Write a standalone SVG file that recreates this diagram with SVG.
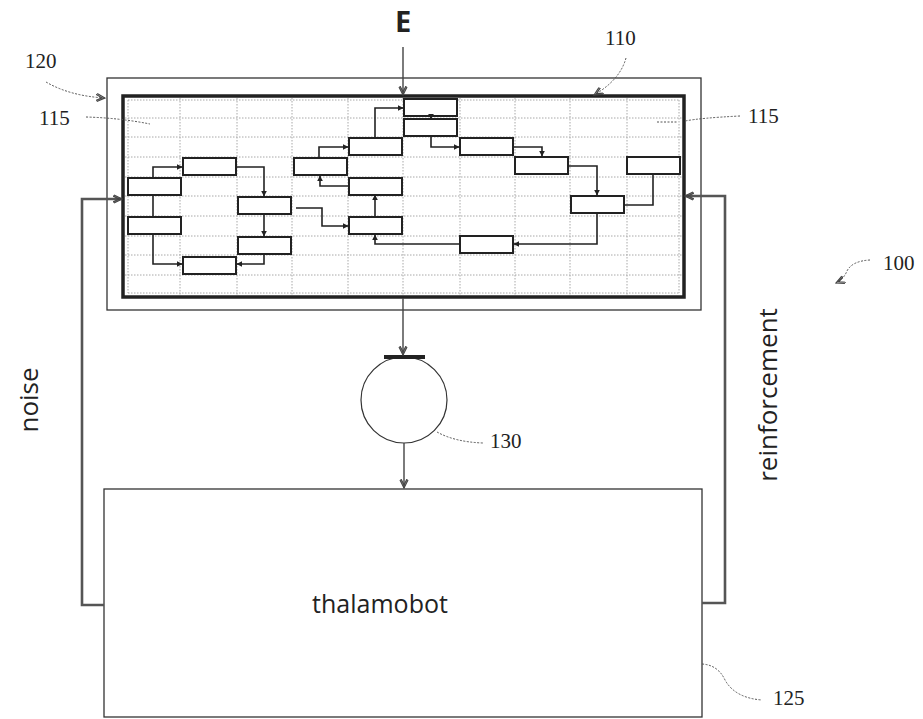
<svg xmlns="http://www.w3.org/2000/svg" width="923" height="719" viewBox="0 0 923 719">
<style>
.grid{stroke:#a8a8a8;stroke-width:1;stroke-dasharray:1.5 1.5;fill:none}
.cell{fill:#fff;stroke:#222;stroke-width:2}
.wire{fill:none;stroke:#222;stroke-width:1.6}
.feed{fill:none;stroke:#555;stroke-width:2.6}
.flow{fill:none;stroke:#444;stroke-width:1.4}
.lead{fill:none;stroke:#555;stroke-width:1;stroke-dasharray:2 1.5}
.num{font-family:"Liberation Serif",serif;font-size:21px;fill:#222}
.lbl{font-family:"Open Sans",sans-serif;fill:#222}
</style>
<defs>
<marker id="tri" viewBox="0 0 10 10" refX="9" refY="5" markerWidth="6" markerHeight="6" markerUnits="userSpaceOnUse" orient="auto">
<path d="M0,0 L10,5 L0,10 Z" fill="#222"/>
</marker>
<marker id="chev" viewBox="0 0 10 10" refX="9" refY="5" markerWidth="10" markerHeight="10" markerUnits="userSpaceOnUse" orient="auto">
<path d="M1,1 L9,5 L1,9 M-2,1 L6,5 L-2,9" fill="none" stroke="#444" stroke-width="1.2"/>
</marker>
</defs>
<rect width="923" height="719" fill="#fff"/>

<g id="n120">
<rect x="107" y="78" width="594" height="232" fill="none" stroke="#333" stroke-width="1.3"/>
</g>
<g id="n110">
<rect x="124" y="97" width="559" height="199" fill="#fff" stroke="none"/>
<g class="grid">
<path d="M180,98V295M237,98V295M292,98V295M348,98V295M403,98V295M460,98V295M515,98V295M570,98V295M627,98V295"/>
<path d="M125,118H682M125,137H682M125,157H682M125,177H682M125,196H682M125,216H682M125,236H682M125,255H682M125,275H682"/>
<path d="M128,100V293M679,100V293M128,100H679M128,293H679"/>
</g>
<rect x="123" y="96" width="561" height="201" fill="none" stroke="#222" stroke-width="3.5"/>
</g>

<g id="cells">
<g id="cA"><rect class="cell" x="128" y="178" width="53" height="17"/></g>
<g id="cB"><rect class="cell" x="128" y="217" width="53" height="17"/></g>
<g id="cC"><rect class="cell" x="183" y="158" width="53" height="17"/></g>
<g id="cD"><rect class="cell" x="183" y="257" width="53" height="17"/></g>
<g id="cE"><rect class="cell" x="238" y="197" width="53" height="17"/></g>
<g id="cF"><rect class="cell" x="238" y="237" width="53" height="17"/></g>
<g id="cG"><rect class="cell" x="294" y="158" width="53" height="17"/></g>
<g id="cH"><rect class="cell" x="349" y="138" width="53" height="17"/></g>
<g id="cI"><rect class="cell" x="349" y="178" width="53" height="17"/></g>
<g id="cJ"><rect class="cell" x="349" y="217" width="53" height="17"/></g>
<g id="cK"><rect class="cell" x="404" y="99" width="53" height="17"/></g>
<g id="cL"><rect class="cell" x="404" y="119" width="53" height="17"/></g>
<g id="cM"><rect class="cell" x="460" y="138" width="53" height="17"/></g>
<g id="cN"><rect class="cell" x="515" y="157" width="53" height="17"/></g>
<g id="cO"><rect class="cell" x="571" y="196" width="53" height="17"/></g>
<g id="cP"><rect class="cell" x="627" y="157" width="53" height="17"/></g>
<g id="cQ"><rect class="cell" x="460" y="236" width="53" height="17"/></g>
</g>

<g id="n130">
<circle cx="404" cy="400" r="43" fill="#fff" stroke="#333" stroke-width="1.2"/>
<rect x="384" y="355" width="41" height="4" fill="#222"/>
</g>

<g id="n125">
<rect x="104" y="489" width="598" height="228" fill="#fff" stroke="#333" stroke-width="1.3"/>
<text class="lbl" x="380" y="613" font-size="25" text-anchor="middle">thalamobot</text>
</g>

<g id="connectors">
<path class="wire" marker-end="url(#tri)" d="M153,178V167H182"/>
<path class="wire" d="M153,195V217"/>
<path class="wire" marker-end="url(#tri)" d="M153,234V264H182"/>
<path class="wire" marker-end="url(#tri)" d="M236,167H264V196"/>
<path class="wire" marker-end="url(#tri)" d="M264,214V236"/>
<path class="wire" marker-end="url(#tri)" d="M264,254V264H237"/>
<path class="wire" marker-end="url(#tri)" d="M296,208H322V226H348"/>
<path class="wire" marker-end="url(#tri)" d="M349,186H320V176"/>
<path class="wire" marker-end="url(#tri)" d="M319,158V147H348"/>
<path class="wire" marker-end="url(#tri)" d="M375,138V108H403"/>
<path class="wire" marker-end="url(#tri)" d="M375,217V195"/>
<path class="wire" marker-end="url(#tri)" d="M460,244H375V235"/>
<path class="wire" marker-end="url(#tri)" d="M431,116V119"/>
<path class="wire" marker-end="url(#tri)" d="M431,136V147H459"/>
<path class="wire" marker-end="url(#tri)" d="M513,147H542V156"/>
<path class="wire" marker-end="url(#tri)" d="M568,166H597V195"/>
<path class="wire" d="M653,175V205H624"/>
<path class="wire" marker-end="url(#tri)" d="M597,213V244H514"/>
<path class="flow" marker-end="url(#chev)" d="M403,47V95"/>
<path class="flow" marker-end="url(#chev)" d="M403,298V355"/>
<path class="flow" marker-end="url(#chev)" d="M404,443V488"/>
<path class="feed" marker-end="url(#chev)" d="M104,605H82V199H122"/>
<path class="feed" marker-end="url(#chev)" d="M702,603H725V196H685"/>
</g>

<g id="labels">
<text class="lbl" x="403" y="32" font-size="29" font-weight="700" text-anchor="middle">E</text>
<text class="lbl" transform="translate(38,400) rotate(-90)" font-size="26" text-anchor="middle">noise</text>
<text class="lbl" transform="translate(777,395) rotate(-90)" font-size="26" text-anchor="middle">reinforcement</text>
<text class="num" x="25" y="68">120</text>
<text class="num" x="39" y="125">115</text>
<text class="num" x="748" y="123">115</text>
<text class="num" x="605" y="45">110</text>
<text class="num" x="883" y="270">100</text>
<text class="num" x="773" y="705">125</text>
<text class="num" x="490" y="448">130</text>
<path class="lead" marker-end="url(#chev)" d="M46,82Q70,96 105,98"/>
<path class="lead" d="M86,117Q120,118 150,124"/>
<path class="lead" d="M740,116Q700,118 685,121M657,122H677"/>
<path class="lead" marker-end="url(#chev)" d="M626,58Q620,80 594,95"/>
<path class="lead" marker-end="url(#chev)" d="M870,260Q852,261 847,271Q843,280 836,283"/>
<path class="lead" d="M702,664Q718,665 725,680Q735,698 762,700"/>
<path class="lead" d="M437,432Q455,442 483,443"/>
</g>
</svg>
